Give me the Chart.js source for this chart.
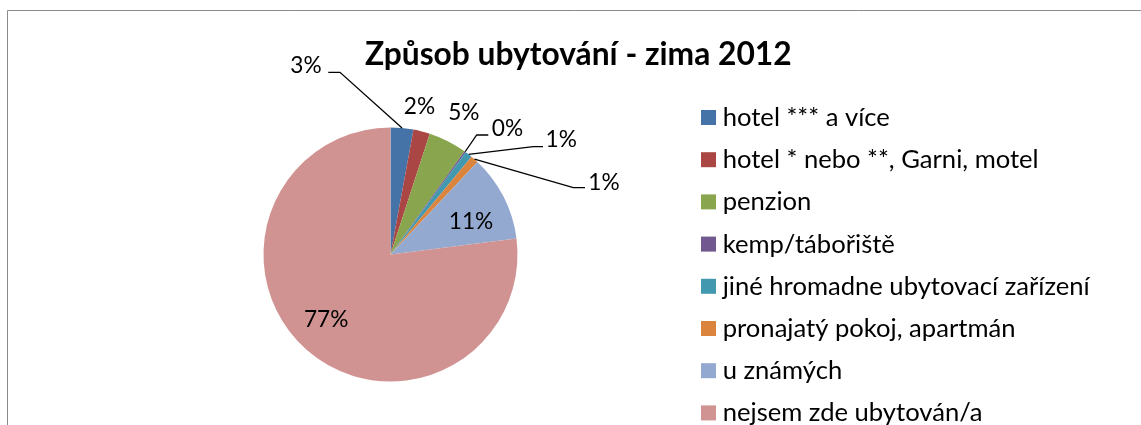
<!DOCTYPE html>
<html>
<head>
<meta charset="utf-8">
<script src="https://cdn.jsdelivr.net/npm/chart.js@4/dist/chart.umd.min.js"></script>
<style>
  html, body { margin: 0; padding: 0; background: #ffffff; }
  #wrap { position: relative; width: 1141px; height: 425px; overflow: hidden; }
  canvas { position: absolute; left: 0; top: 0; }
</style>
</head>
<body>
<div id="wrap"><canvas id="c" width="1141" height="425"></canvas></div>
<script>
// ---- data ----
const chartTitle = 'Způsob ubytování - zima 2012';
const categories = [
  'hotel *** a více',
  'hotel * nebo **, Garni, motel',
  'penzion',
  'kemp/tábořiště',
  'jiné hromadne ubytovací zařízení',
  'pronajatý pokoj, apartmán',
  'u známých',
  'nejsem zde ubytován/a'
];
const shares = [2.9, 2.1, 4.9, 0.2, 0.9, 1.0, 11.0, 77.0];
const sliceColors = ['#4572A7', '#AA4643', '#89A54E', '#71588F', '#4198AF', '#DB843D', '#93A9CF', '#D19392'];

// ---- layout (label placement relative to pie centre, px) ----
const labelLayout = [
  { text: [-84.5, -190], leader: [[-50.5, -182.2], [-62.2, -182.2]] },
  { text: [29, -149.2] },
  { text: [73.3, -142.8] },
  { text: [117, -127], leader: [[86.2, -119.5], [97.8, -119.5]] },
  { text: [170.7, -116.2], leader: [[142.8, -107.8], [152.5, -107.8]] },
  { text: [213.5, -72.8], leader: [[182.8, -66.8], [194.5, -66.8]] },
  { text: [80.5, -34.5] },
  { text: [-64.3, 64.2] }
];

const FONT = 'Lato, "Open Sans", "DejaVu Sans", sans-serif';
function fitSize(ctx, text, weight, target) {
  ctx.font = weight + ' 100px ' + FONT;
  return 100 * target / ctx.measureText(text).width;
}

const decor = {
  id: 'decor',
  beforeDraw(chart) {
    const ctx = chart.ctx;
    ctx.save();
    ctx.strokeStyle = '#8a8a8a';
    ctx.lineWidth = 1;
    ctx.beginPath();
    ctx.moveTo(7.5, 430);
    ctx.lineTo(7.5, 10.5);
    ctx.lineTo(1150, 10.5);
    ctx.stroke();
    ctx.restore();
  },
  afterDraw(chart) {
    const ctx = chart.ctx;
    ctx.save();
    // title
    const ts = fitSize(ctx, chartTitle, 'bold', 427);
    ctx.font = 'bold ' + ts.toFixed(2) + 'px ' + FONT;
    ctx.fillStyle = '#000';
    ctx.textAlign = 'center';
    ctx.textBaseline = 'alphabetic';
    ctx.fillText(chartTitle, 578.3, 65);

    // data labels
    const meta = chart.getDatasetMeta(0);
    const total = shares.reduce((a, b) => a + b, 0);
    const ls = fitSize(ctx, '77%', 'normal', 44.5);
    ctx.font = ls.toFixed(2) + 'px ' + FONT;
    const asc = ctx.measureText('0').actualBoundingBoxAscent;
    meta.data.forEach((arc, i) => {
      const p = arc.getProps(['x', 'y', 'startAngle', 'endAngle', 'outerRadius'], true);
      const mid = (p.startAngle + p.endAngle) / 2;
      const L = labelLayout[i];
      if (L.leader) {
        ctx.strokeStyle = '#000';
        ctx.lineWidth = 1.3;
        ctx.beginPath();
        ctx.moveTo(p.x + Math.cos(mid) * p.outerRadius, p.y + Math.sin(mid) * p.outerRadius);
        L.leader.forEach(pt => ctx.lineTo(p.x + pt[0], p.y + pt[1]));
        ctx.stroke();
      }
      const txt = Math.round(shares[i] / total * 100) + '%';
      ctx.fillStyle = '#000';
      ctx.textAlign = 'center';
      ctx.textBaseline = 'alphabetic';
      ctx.fillText(txt, p.x + L.text[0], p.y + L.text[1] + asc / 2);
    });

    // legend
    const gs = fitSize(ctx, categories[1], 'normal', 316);
    ctx.font = gs.toFixed(2) + 'px ' + FONT;
    ctx.textAlign = 'left';
    categories.forEach((name, i) => {
      const cy = 117.5 + i * 42.2;
      ctx.fillStyle = sliceColors[i];
      ctx.fillRect(701, cy - 7.5, 15, 15);
      ctx.fillStyle = '#000';
      ctx.fillText(name, 722.7, cy + 8.5);
    });
    ctx.restore();
  }
};

new Chart(document.getElementById('c'), {
  type: 'pie',
  data: {
    labels: categories,
    datasets: [{
      data: shares,
      backgroundColor: sliceColors,
      borderWidth: 0
    }]
  },
  options: {
    responsive: false,
    animation: false,
    layout: { padding: { left: 263.5, right: 623.5, top: 127.5, bottom: 43.5 } },
    plugins: {
      legend: { display: false },
      title: { display: false },
      tooltip: { enabled: false }
    }
  },
  plugins: [decor]
});
</script>
</body>
</html>
